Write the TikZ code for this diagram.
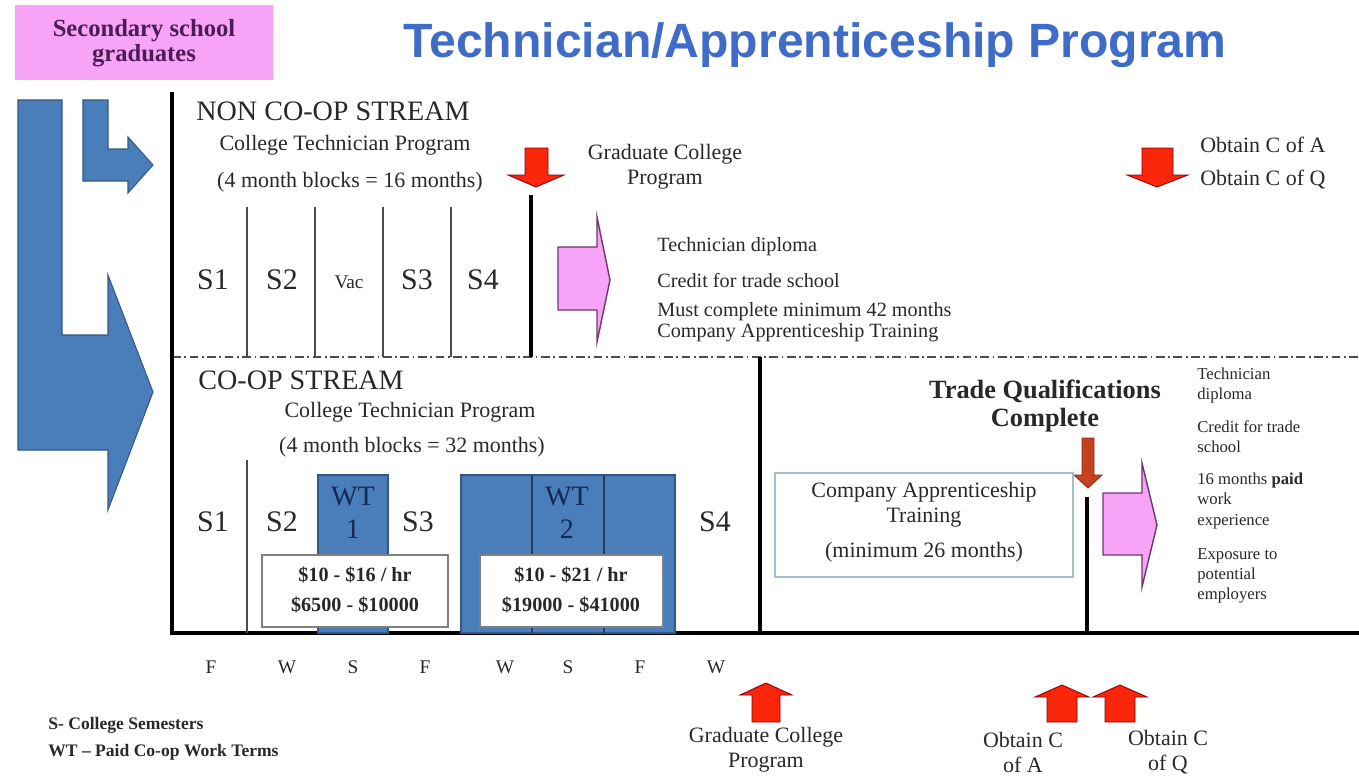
\documentclass[tikz,border=0pt]{standalone}
\usepackage{fontspec}
\setmainfont{Liberation Serif}
\newfontfamily\titlefont{Liberation Sans}
\definecolor{arrowblue}{RGB}{74,126,187}
\definecolor{edgeblue}{RGB}{52,88,132}
\definecolor{pinkfill}{RGB}{247,163,247}
\definecolor{pinkedge}{RGB}{110,55,110}
\definecolor{titleblue}{RGB}{62,108,200}
\definecolor{arrowred}{RGB}{250,38,12}
\definecolor{tradered}{RGB}{196,66,30}
\definecolor{txtgray}{RGB}{40,40,40}
\definecolor{wtnavy}{RGB}{22,40,85}
\definecolor{boxblue}{RGB}{165,188,212}
\definecolor{gradpurple}{RGB}{75,28,85}

\begin{document}
\begin{tikzpicture}[x=0.02cm,y=-0.02cm,
    lbl/.style={inner sep=0pt,text=txtgray,align=center,font=\fontsize{12.5}{14.2}\selectfont},
    listtxt/.style={inner sep=0pt,text=txtgray,align=left,font=\fontsize{11.5}{12}\selectfont},
    sidetxt/.style={inner sep=0pt,text=txtgray,align=left,anchor=north west,font=\fontsize{9.5}{11.4}\selectfont},
    sem/.style={inner sep=0pt,text=txtgray,font=\fontsize{17}{17}\selectfont},
    paybox/.style={draw=gray,fill=white,line width=0.8pt},
    paytxt/.style={inner sep=0pt,text=txtgray,font=\bfseries\fontsize{11.5}{12}\selectfont},
    bluearrow/.style={fill=arrowblue,draw=edgeblue,line width=0.6pt},
    redarrow/.style={fill=arrowred,draw=red!55!black,line width=0.5pt},
    pinkarrow/.style={fill=pinkfill,draw=pinkedge,line width=0.8pt},
    bigline/.style={line width=2.3pt,black},
    semline/.style={line width=0.7pt,black!70}]
  \useasboundingbox (0,0) rectangle (1359,775);

  % heading
  \node[draw=none,fill=pinkfill,minimum width=258*0.02cm,minimum height=75*0.02cm] (grads) at (144,42) {};
  \node[inner sep=0pt,text=gradpurple,align=center,font=\bfseries\fontsize{14}{14.2}\selectfont] (gradstxt) at (144,43) {Secondary school\\graduates};
  \node[inner sep=0pt,text=titleblue,font=\titlefont\bfseries\fontsize{27.4}{30}\selectfont] (title) at (815,45) {Technician/Apprenticeship Program};

  % entry arrows
  \draw[bluearrow] (18,100) -- (62,100) -- (62,335) -- (108,335) -- (108,275) -- (153,392) -- (108,510) -- (108,450) -- (18,450) -- cycle;
  \draw[bluearrow] (83,100) -- (108,100) -- (108,149) -- (128,149) -- (128,137) -- (153,165) -- (128,193) -- (128,181) -- (83,181) -- cycle;

  % frame
  \coordinate (top) at (172,92);
  \coordinate (corner) at (172,633);
  \coordinate (end) at (1359,633);
  \draw[dash pattern=on 5pt off 2pt on 1pt off 2pt,black!70,line width=0.8pt] (172,357) -- (1359,357);
  \draw[bigline] (top) -- (corner) -- (end);

  % non co-op stream
  \node[inner sep=0pt,anchor=west,text=txtgray,font=\fontsize{16}{16}\selectfont] (noncoop) at (196,111) {NON CO-OP STREAM};
  \node[lbl] (ncprog) at (345,145) {College Technician Program};
  \node[lbl] (ncblocks) at (350,182) {(4 month blocks = 16 months)};
  \foreach \x in {247,315,383,451}
    \draw[semline] (\x,207) -- (\x,357);
  \foreach \x/\s in {213/S1,282/S2,417/S3,483/S4}
    \node[sem] (nc\s) at (\x,280) {\s};
  \node[inner sep=0pt,text=txtgray,font=\fontsize{11}{11}\selectfont] (ncvac) at (349,282) {Vac};
  \draw[bigline] (531,195) -- (531,357);
  \draw[redarrow] (525,148) -- (548,148) -- (548,175) -- (564,175) -- (536,187) -- (508,175) -- (525,175) -- cycle;
  \node[lbl] (ncgrad) at (665,167) {Graduate College\\Program};
  \draw[pinkarrow] (558,247) -- (597,247) -- (597,217) -- (610,280) -- (597,342) -- (597,310) -- (558,310) -- cycle;
  \node[listtxt,anchor=west] (ncdip) at (657,247) {Technician diploma};
  \node[listtxt,anchor=west] (nccredit) at (657,280) {Credit for trade school};
  \node[listtxt,anchor=west] (ncmust) at (657,322) {Must complete minimum 42 months\\Company Apprenticeship Training};
  \draw[redarrow] (1142,148) -- (1173,148) -- (1173,175) -- (1188,175) -- (1157,187) -- (1127,175) -- (1142,175) -- cycle;
  \node[lbl,anchor=west] (ncca) at (1200,145) {Obtain C of A};
  \node[lbl,anchor=west] (nccq) at (1200,180) {Obtain C of Q};

  % co-op stream
  \node[inner sep=0pt,anchor=west,text=txtgray,font=\fontsize{16}{16}\selectfont] (coop) at (198,380) {CO-OP STREAM};
  \node[lbl] (cprog) at (410,412) {College Technician Program};
  \node[lbl] (cblocks) at (412,447) {(4 month blocks = 32 months)};
  \draw[semline] (247,460) -- (247,633);
  \draw[fill=arrowblue,draw=edgeblue,line width=0.8pt] (318,475) rectangle (388,633);
  \draw[fill=arrowblue,draw=edgeblue,line width=0.8pt] (461,475) rectangle (675,633);
  \draw[edgeblue!70!black,line width=0.8pt] (532,475) -- (532,633) (604,475) -- (604,633);
  \node[inner sep=0pt,text=wtnavy,align=center,font=\fontsize{16}{18.5}\selectfont] (wt1) at (353,513) {WT\\1};
  \node[inner sep=0pt,text=wtnavy,align=center,font=\fontsize{16}{18.5}\selectfont] (wt2) at (567,513) {WT\\2};
  \foreach \x/\s in {213/S1,282/S2,418/S3,715/S4}
    \node[sem] (c\s) at (\x,522) {\s};
  \draw[paybox] (262,555) rectangle (448,627);
  \draw[paybox] (480,555) rectangle (663,627);
  \node[paytxt] (pay1) at (355,575) {\$10 - \$16 / hr};
  \node[paytxt] (earn1) at (355,605) {\$6500 - \$10000};
  \node[paytxt] (pay2) at (571,575) {\$10 - \$21 / hr};
  \node[paytxt] (earn2) at (571,605) {\$19000 - \$41000};
  \draw[bigline] (760,357) -- (760,633);

  % apprenticeship
  \node[inner sep=0pt,text=txtgray,align=center,font=\bfseries\fontsize{15}{16}\selectfont] (trade) at (1045,406) {Trade Qualifications\\Complete};
  \draw[fill=tradered,draw=tradered!70!black,line width=0.5pt] (1082,438) -- (1094,438) -- (1094,475) -- (1102,475) -- (1088,488) -- (1074,475) -- (1082,475) -- cycle;
  \draw[draw=boxblue,line width=1pt] (775,473) rectangle (1073,577);
  \node[lbl] (appr) at (924,505) {Company Apprenticeship\\Training};
  \node[lbl] (apprmin) at (924,552) {(minimum 26 months)};
  \draw[bigline] (1087,497) -- (1087,633);
  \draw[pinkarrow] (1103,493) -- (1142,493) -- (1142,463) -- (1157,525) -- (1142,587) -- (1142,555) -- (1103,555) -- cycle;
  \node[sidetxt] (cdip) at (1197,368) {Technician\\diploma};
  \node[sidetxt] (ccredit) at (1197,420) {Credit for trade\\school};
  \node[sidetxt] (cpaid) at (1197,473) {16 months \textbf{paid}\\work\\experience};
  \node[sidetxt] (cexp) at (1197,548) {Exposure to\\potential\\employers};

  % terms
  \foreach \x/\t [count=\i] in {211/F,287/W,353/S,425/F,505/W,568/S,640/F,716/W}
    \node[inner sep=0pt,text=txtgray,font=\fontsize{11}{11}\selectfont] (term\i) at (\x,667) {\t};

  % milestones
  \draw[redarrow] (752,722) -- (780,722) -- (780,695) -- (792,695) -- (766,683) -- (740,695) -- (752,695) -- cycle;
  \node[lbl] (cgrad) at (766,750) {Graduate College\\Program};
  \draw[redarrow] (1047,722) -- (1077,722) -- (1077,697) -- (1089,697) -- (1062,685) -- (1035,697) -- (1047,697) -- cycle;
  \draw[redarrow] (1105,722) -- (1135,722) -- (1135,697) -- (1147,697) -- (1120,685) -- (1093,697) -- (1105,697) -- cycle;
  \node[lbl] (cca) at (1023,752) {Obtain C\\of A};
  \node[lbl] (ccq) at (1168,752) {Obtain C\\of Q};

  % legend
  \node[inner sep=0pt,anchor=west,text=txtgray,font=\bfseries\fontsize{10}{10}\selectfont] (keys) at (48,725) {S- College Semesters};
  \node[inner sep=0pt,anchor=west,text=txtgray,font=\bfseries\fontsize{10}{10}\selectfont] (keywt) at (48,752) {WT -- Paid Co-op Work Terms};
\end{tikzpicture}
\end{document}
